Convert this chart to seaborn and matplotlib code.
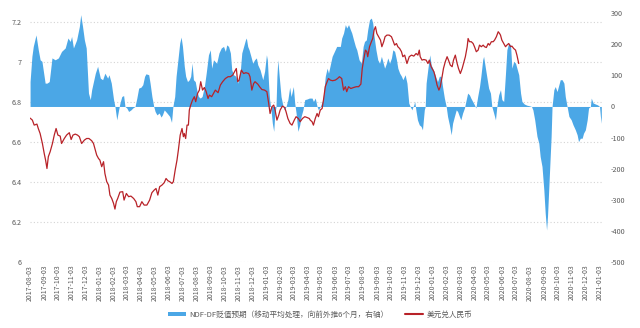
import matplotlib
matplotlib.use("Agg")
import matplotlib.pyplot as plt
import matplotlib.dates as mdates
from matplotlib.patches import Patch
from matplotlib.lines import Line2D
from matplotlib.ticker import MultipleLocator, FuncFormatter
import pandas as pd
import seaborn as sns

sns.set_theme(style="white")
plt.rcParams["font.family"] = ["Noto Sans CJK SC", "DejaVu Sans"]

START = pd.Timestamp("2017-08-03")

# NDF-DF depreciation expectation (moving average, shifted 6 months ahead), right axis
ndf_days = [0, 4, 7, 13, 18, 22, 26, 33, 37, 42, 48, 55, 62, 69, 77, 83, 88, 91, 95, 102,
            108, 111, 115, 119, 123, 128, 132, 135, 143, 148, 154, 159, 164, 170, 173, 178, 183, 186, 190, 194,
            197, 201, 205, 208, 212, 216, 221, 225, 230, 234, 238, 243, 247, 251, 254, 260, 263, 267, 271, 274,
            278, 283, 287, 290, 294, 300, 306, 310, 313, 317, 320, 324, 328, 331, 334, 338, 341, 345, 349, 352,
            355, 358, 362, 366, 369, 373, 377, 382, 386, 391, 395, 398, 402, 409, 414, 419, 424, 428, 431, 435,
            439, 442, 446, 451, 455, 461, 464, 468, 472, 474, 477, 480, 484, 488, 492, 496, 499, 504, 510, 514,
            518, 520, 523, 525, 528, 531, 534, 536, 539, 541, 543, 546, 550, 553, 557, 561, 565, 569, 572, 577,
            580, 583, 587, 591, 594, 598, 602, 607, 612, 618, 621, 625, 629, 632, 636, 642, 647, 651, 654, 658,
            662, 667, 672, 680, 683, 687, 691, 694, 698, 702, 705, 709, 713, 716, 721, 726, 730, 733, 737, 740,
            744, 748, 751, 754, 758, 762, 766, 770, 773, 777, 781, 784, 788, 792, 795, 799, 803, 806, 810, 814,
            817, 822, 826, 830, 833, 837, 838, 841, 843, 846, 849, 853, 857, 860, 864, 866, 868, 872, 876, 879,
            885, 890, 893, 897, 901, 904, 908, 912, 915, 919, 923, 926, 930, 934, 937, 941, 944, 948, 952, 955,
            959, 963, 966, 970, 974, 977, 981, 985, 988, 992, 994, 998, 1002, 1005, 1009, 1012, 1016, 1020, 1023, 1027,
            1031, 1034, 1038, 1042, 1045, 1049, 1053, 1056, 1060, 1064, 1067, 1071, 1075, 1078, 1083, 1089, 1095, 1099, 1102, 1106,
            1111, 1115, 1118, 1122, 1126, 1129, 1132, 1134, 1138, 1142, 1144, 1148, 1151, 1155, 1159, 1162, 1166, 1170, 1173, 1177,
            1181, 1186, 1190, 1195, 1199, 1202, 1206, 1210, 1213, 1217, 1221, 1224, 1228, 1230, 1234, 1239, 1244, 1248, 1250, 1252]
ndf_bp = [80, 161, 193, 230, 182, 150, 145, 75, 75, 80, 156, 150, 156, 177, 188, 220, 209, 225, 188, 214,
          257, 295, 257, 214, 188, 43, 22, 54, 107, 129, 91, 86, 107, 91, 102, 75, 22, 0, -43, -11,
          11, 32, 35, 0, -5, -16, -11, -5, 0, 27, 59, 62, 70, 97, 105, 102, 75, 32, 0, -16,
          -27, -21, -34, -27, -11, -21, -32, -51, 0, 32, 97, 150, 204, 223, 193, 129, 97, 80, 86, 97,
          139, 86, 80, 48, 32, 27, 32, 64, 107, 166, 182, 123, 150, 139, 172, 188, 193, 177, 198, 193,
          172, 118, 102, 97, 75, 118, 172, 193, 214, 220, 193, 182, 161, 139, 150, 156, 134, 118, 86, 113,
          166, 150, 64, 22, -11, -54, -80, -32, 0, 97, 150, 97, 32, 11, -11, 0, 22, 62, 32, 64,
          11, -21, -80, -59, -32, -11, 22, 24, 27, 27, 16, 27, 0, -11, 0, 22, 97, 123, 107, 134,
          161, 177, 193, 193, 220, 236, 263, 252, 263, 247, 236, 214, 193, 182, 150, 139, 193, 209, 214, 247,
          279, 284, 268, 225, 182, 150, 139, 161, 145, 123, 139, 156, 139, 156, 182, 177, 150, 123, 107, 97,
          86, 102, 75, 11, 0, -11, -5, 5, 16, -16, -43, -59, -64, -75, -11, 0, 75, 123, 166, 134,
          113, 91, 80, 97, 97, 64, 27, 0, -32, -59, -91, -54, -32, -11, -16, -32, -43, -21, -5, 16,
          43, 37, 27, 16, 5, -5, 32, 64, 97, 150, 161, 123, 86, 59, 43, 0, -21, -43, 0, 37,
          54, 22, 16, 107, 182, 204, 198, 123, 145, 139, 123, 102, 43, 16, 8, 4, 2, 0, -11, -43,
          -96, -118, -161, -193, -268, -343, -397, -354, -225, -96, 0, 54, 64, 48, 70, 86, 86, 75, 32, 0,
          -32, -43, -59, -75, -91, -113, -102, -102, -86, -75, -43, -5, 0, 27, 11, 8, 5, 0, -32, -54]

# USD/CNY spot, left axis
fx_days = [0, 5, 9, 15, 18, 22, 27, 31, 34, 37, 40, 44, 49, 53, 57, 61, 66, 69, 75, 80,
           86, 90, 94, 99, 104, 108, 113, 119, 124, 129, 135, 139, 143, 146, 150, 153, 157, 161, 164, 168,
           172, 175, 179, 183, 186, 189, 192, 197, 203, 206, 211, 216, 221, 227, 232, 235, 240, 245, 250, 256,
           262, 267, 272, 276, 280, 284, 289, 294, 298, 302, 306, 311, 314, 318, 322, 325, 329, 333, 336, 338,
           341, 344, 347, 349, 352, 356, 360, 363, 367, 371, 374, 378, 382, 386, 390, 393, 398, 404, 406, 412,
           417, 422, 428, 434, 439, 444, 448, 452, 455, 458, 463, 468, 473, 479, 482, 486, 490, 493, 499, 503,
           508, 514, 519, 523, 526, 530, 534, 537, 541, 545, 548, 553, 558, 561, 565, 570, 574, 579, 583, 588,
           592, 597, 602, 607, 612, 614, 618, 621, 625, 629, 632, 636, 640, 643, 647, 651, 654, 658, 663, 669,
           674, 678, 683, 687, 691, 694, 698, 703, 709, 715, 720, 725, 728, 731, 735, 738, 740, 744, 748, 751,
           754, 757, 760, 764, 768, 771, 775, 778, 782, 787, 792, 795, 799, 803, 806, 810, 814, 817, 821, 826,
           831, 836, 841, 846, 850, 853, 855, 859, 863, 868, 872, 875, 879, 885, 888, 892, 896, 899, 903, 906,
           910, 914, 917, 921, 925, 928, 932, 936, 939, 943, 947, 950, 954, 958, 960, 963, 967, 971, 974, 978,
           982, 985, 989, 993, 996, 1000, 1004, 1007, 1011, 1015, 1018, 1022, 1026, 1029, 1031, 1034, 1038, 1042, 1045, 1049,
           1053, 1056, 1060, 1064, 1067, 1071]
fx_rate = [6.720, 6.710, 6.685, 6.690, 6.668, 6.643, 6.593, 6.543, 6.510, 6.468, 6.527, 6.552, 6.593, 6.635, 6.668, 6.635, 6.630, 6.593, 6.618, 6.635,
           6.647, 6.613, 6.635, 6.640, 6.635, 6.627, 6.593, 6.610, 6.618, 6.618, 6.607, 6.593, 6.560, 6.535, 6.518, 6.510, 6.477, 6.502, 6.443, 6.402,
           6.385, 6.335, 6.318, 6.293, 6.265, 6.302, 6.318, 6.350, 6.352, 6.310, 6.343, 6.327, 6.330, 6.318, 6.302, 6.277, 6.277, 6.302, 6.285, 6.285,
           6.310, 6.347, 6.360, 6.368, 6.335, 6.377, 6.385, 6.397, 6.418, 6.407, 6.402, 6.393, 6.402, 6.460, 6.510, 6.560, 6.635, 6.668, 6.627, 6.643,
           6.618, 6.685, 6.685, 6.760, 6.785, 6.810, 6.827, 6.802, 6.843, 6.860, 6.902, 6.860, 6.873, 6.852, 6.818, 6.835, 6.827, 6.852, 6.860, 6.847,
           6.885, 6.902, 6.918, 6.927, 6.927, 6.935, 6.952, 6.968, 6.902, 6.910, 6.960, 6.943, 6.947, 6.943, 6.927, 6.860, 6.893, 6.902, 6.890, 6.877,
           6.863, 6.860, 6.852, 6.793, 6.743, 6.777, 6.785, 6.760, 6.710, 6.735, 6.760, 6.780, 6.773, 6.752, 6.718, 6.693, 6.685, 6.710, 6.727, 6.718,
           6.702, 6.718, 6.727, 6.723, 6.718, 6.710, 6.702, 6.685, 6.718, 6.743, 6.727, 6.760, 6.768, 6.810, 6.877, 6.902, 6.918, 6.910, 6.907, 6.910,
           6.918, 6.927, 6.918, 6.860, 6.877, 6.852, 6.877, 6.868, 6.873, 6.877, 6.877, 6.890, 6.968, 7.010, 7.060, 7.052, 7.027, 7.077, 7.102, 7.118,
           7.160, 7.177, 7.143, 7.127, 7.110, 7.077, 7.102, 7.127, 7.135, 7.135, 7.127, 7.110, 7.085, 7.093, 7.077, 7.068, 7.052, 7.027, 7.035, 6.993,
           7.027, 7.035, 7.030, 7.043, 7.035, 7.060, 7.027, 7.010, 7.013, 7.010, 6.993, 7.010, 6.977, 6.952, 6.927, 6.885, 6.860, 6.877, 6.927, 6.968,
           7.002, 7.027, 7.010, 6.985, 6.977, 7.010, 7.035, 6.993, 6.968, 6.943, 6.968, 6.993, 7.027, 7.077, 7.118, 7.102, 7.102, 7.093, 7.077, 7.052,
           7.060, 7.085, 7.077, 7.085, 7.077, 7.073, 7.093, 7.085, 7.102, 7.102, 7.110, 7.127, 7.152, 7.143, 7.135, 7.110, 7.093, 7.077, 7.085, 7.093,
           7.077, 7.080, 7.068, 7.060, 7.035, 6.993]

ndf_label = "NDF-DF贬值预期（移动平均处理，向前外推6个月，右轴）"
fx_label = "美元兑人民币"

BLUE = "#4BA7E6"
RED = "#B82228"
GREY = "#595959"

ndf = pd.DataFrame({"date": START + pd.to_timedelta(ndf_days, unit="D"), "bp": ndf_bp})
fx = pd.DataFrame({"date": START + pd.to_timedelta(fx_days, unit="D"), "rate": fx_rate})

fig = plt.figure(figsize=(6.4, 3.28), dpi=100)
ax = fig.add_axes([0.047, 0.201, 0.894, 0.759])
ax_r = ax.twinx()
ax_line = ax.twinx()

# left axis: scale and dotted grid
ax.set_ylim(6, 7.245)
ax.yaxis.set_major_locator(MultipleLocator(0.2))
ax.yaxis.set_major_formatter(FuncFormatter(lambda v, _: f"{round(v, 1):g}"))
ax.grid(axis="y", color="#d4d4d4", linestyle=(0, (1, 2)), linewidth=0.8)
ax.grid(axis="x", visible=False)

# right axis: NDF-DF area
ax_r.fill_between(ndf["date"], ndf["bp"], 0, color=BLUE, linewidth=0)
ax_r.set_ylim(-500, 300)
ax_r.yaxis.set_major_locator(MultipleLocator(100))
ax_r.yaxis.set_major_formatter(FuncFormatter(lambda v, _: f"{int(round(v))}"))
ax_r.grid(False)

# USD/CNY line on top, on the left scale
sns.lineplot(data=fx, x="date", y="rate", ax=ax_line, color=RED, linewidth=0.9)
ax_line.set_ylim(ax.get_ylim())
ax_line.yaxis.set_visible(False)
ax_line.grid(False)
ax_line.set_xlabel("")
ax_line.set_ylabel("")

for a in (ax, ax_r, ax_line):
    for s in a.spines.values():
        s.set_visible(False)

ax.set_xlim(START, START + pd.Timedelta(days=1254))
ax.xaxis.set_major_locator(mdates.MonthLocator(bymonthday=3))
ax.xaxis.set_major_formatter(mdates.DateFormatter("%Y-%m-%d"))
ax.tick_params(axis="x", labelrotation=90, labelsize=5.0, colors=GREY, length=0, pad=2)
ax.tick_params(axis="y", labelsize=5.2, colors=GREY, length=0, pad=6)
ax_r.tick_params(axis="y", labelsize=5.2, colors=GREY, length=0, pad=6)
ax.set_xlabel("")
ax.set_ylabel("")

handles = [Patch(facecolor=BLUE, edgecolor="none", label=ndf_label),
           Line2D([], [], color=RED, linewidth=1.5, label=fx_label)]
fig.legend(handles=handles, loc="center", bbox_to_anchor=(0.5, 0.04), ncol=2, frameon=False,
           fontsize=5.5, labelcolor=GREY, handlelength=2.4, handleheight=0.5, columnspacing=2.2,
           handletextpad=0.4)

fig.savefig("out.png", dpi=100)
